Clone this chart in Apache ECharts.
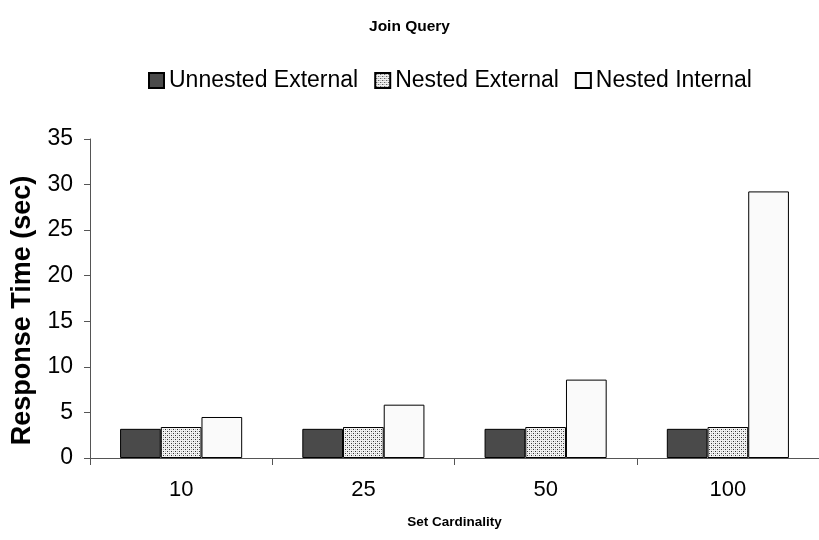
<!DOCTYPE html>
<html>
<head>
<meta charset="utf-8">
<script src="https://cdn.jsdelivr.net/npm/echarts@6/dist/echarts.min.js"></script>
<style>html,body{margin:0;padding:0;background:#fff;}#c{width:819px;height:540px;}</style>
</head>
<body>
<div id="c"></div>
<script>
var categories = ['10', '25', '50', '100'];
var seriesNames = ['Unnested External', 'Nested External', 'Nested Internal'];
var unnestedExternal = [3.2, 3.2, 3.2, 3.2];
var nestedExternal = [3.4, 3.4, 3.4, 3.4];
var nestedInternal = [4.5, 5.85, 8.6, 29.25];
var yTicks = [0, 5, 10, 15, 20, 25, 30, 35];

var pc = document.createElement('canvas');
pc.width = 4; pc.height = 4;
var g = pc.getContext('2d');
g.fillStyle = '#f2f2f2'; g.fillRect(0, 0, 4, 4);
g.fillStyle = '#333333'; g.fillRect(1, 1, 1, 1); g.fillRect(3, 3, 1, 1);
g.fillStyle = '#b0b0b0'; g.fillRect(3, 1, 1, 1); g.fillRect(1, 3, 1, 1);
var dotted = { image: pc, repeat: 'repeat' };

var font = 'Liberation Sans, Arial, sans-serif';
var chart = echarts.init(document.getElementById('c'), null, { renderer: 'canvas' });
chart.setOption({
  animation: false,
  backgroundColor: '#ffffff',
  title: {
    text: 'Join Query', left: 'center', top: 14,
    textStyle: { fontFamily: font, fontSize: 15.5, fontWeight: 'bold', color: '#000' }
  },
  legend: {
    data: seriesNames, top: 64, left: 143,
    itemWidth: 15, itemHeight: 15, itemGap: 16, icon: 'rect',
    textStyle: { fontFamily: font, fontSize: 23, color: '#000' }
  },
  grid: { left: 90, right: -5, top: 139, bottom: 82 },
  xAxis: {
    type: 'category', data: categories,
    name: 'Set Cardinality', nameLocation: 'middle', nameGap: 57,
    nameTextStyle: { fontFamily: font, fontSize: 13.5, fontWeight: 'bold', color: '#000' },
    axisLine: { lineStyle: { color: '#555', width: 1 } },
    axisTick: { show: true, length: 7, lineStyle: { color: '#555' } },
    axisLabel: { margin: 21, fontFamily: font, fontSize: 22, color: '#000' }
  },
  yAxis: {
    type: 'value', min: yTicks[0], max: yTicks[yTicks.length - 1], interval: 5,
    name: 'Response Time (sec)', nameLocation: 'middle', nameGap: 54,
    nameTextStyle: { fontFamily: font, fontSize: 27, fontWeight: 'bold', color: '#000', padding: [0, 24, 0, 0] },
    axisLine: { show: true, lineStyle: { color: '#555', width: 1 } },
    axisTick: { show: true, length: 6, lineStyle: { color: '#555' } },
    splitLine: { show: false },
    axisLabel: { margin: 17, fontFamily: font, fontSize: 23, color: '#000' }
  },
  series: [
    { name: seriesNames[0], type: 'bar', data: unnestedExternal, barGap: '0%', barCategoryGap: '33%',
      itemStyle: { color: '#4a4a4a', borderColor: '#000', borderWidth: 1 } },
    { name: seriesNames[1], type: 'bar', data: nestedExternal, barGap: '0%', barCategoryGap: '33%',
      itemStyle: { color: dotted, borderColor: '#000', borderWidth: 1 } },
    { name: seriesNames[2], type: 'bar', data: nestedInternal, barGap: '0%', barCategoryGap: '33%',
      itemStyle: { color: '#fafafa', borderColor: '#000', borderWidth: 1 } }
  ]
});
</script>
</body>
</html>
